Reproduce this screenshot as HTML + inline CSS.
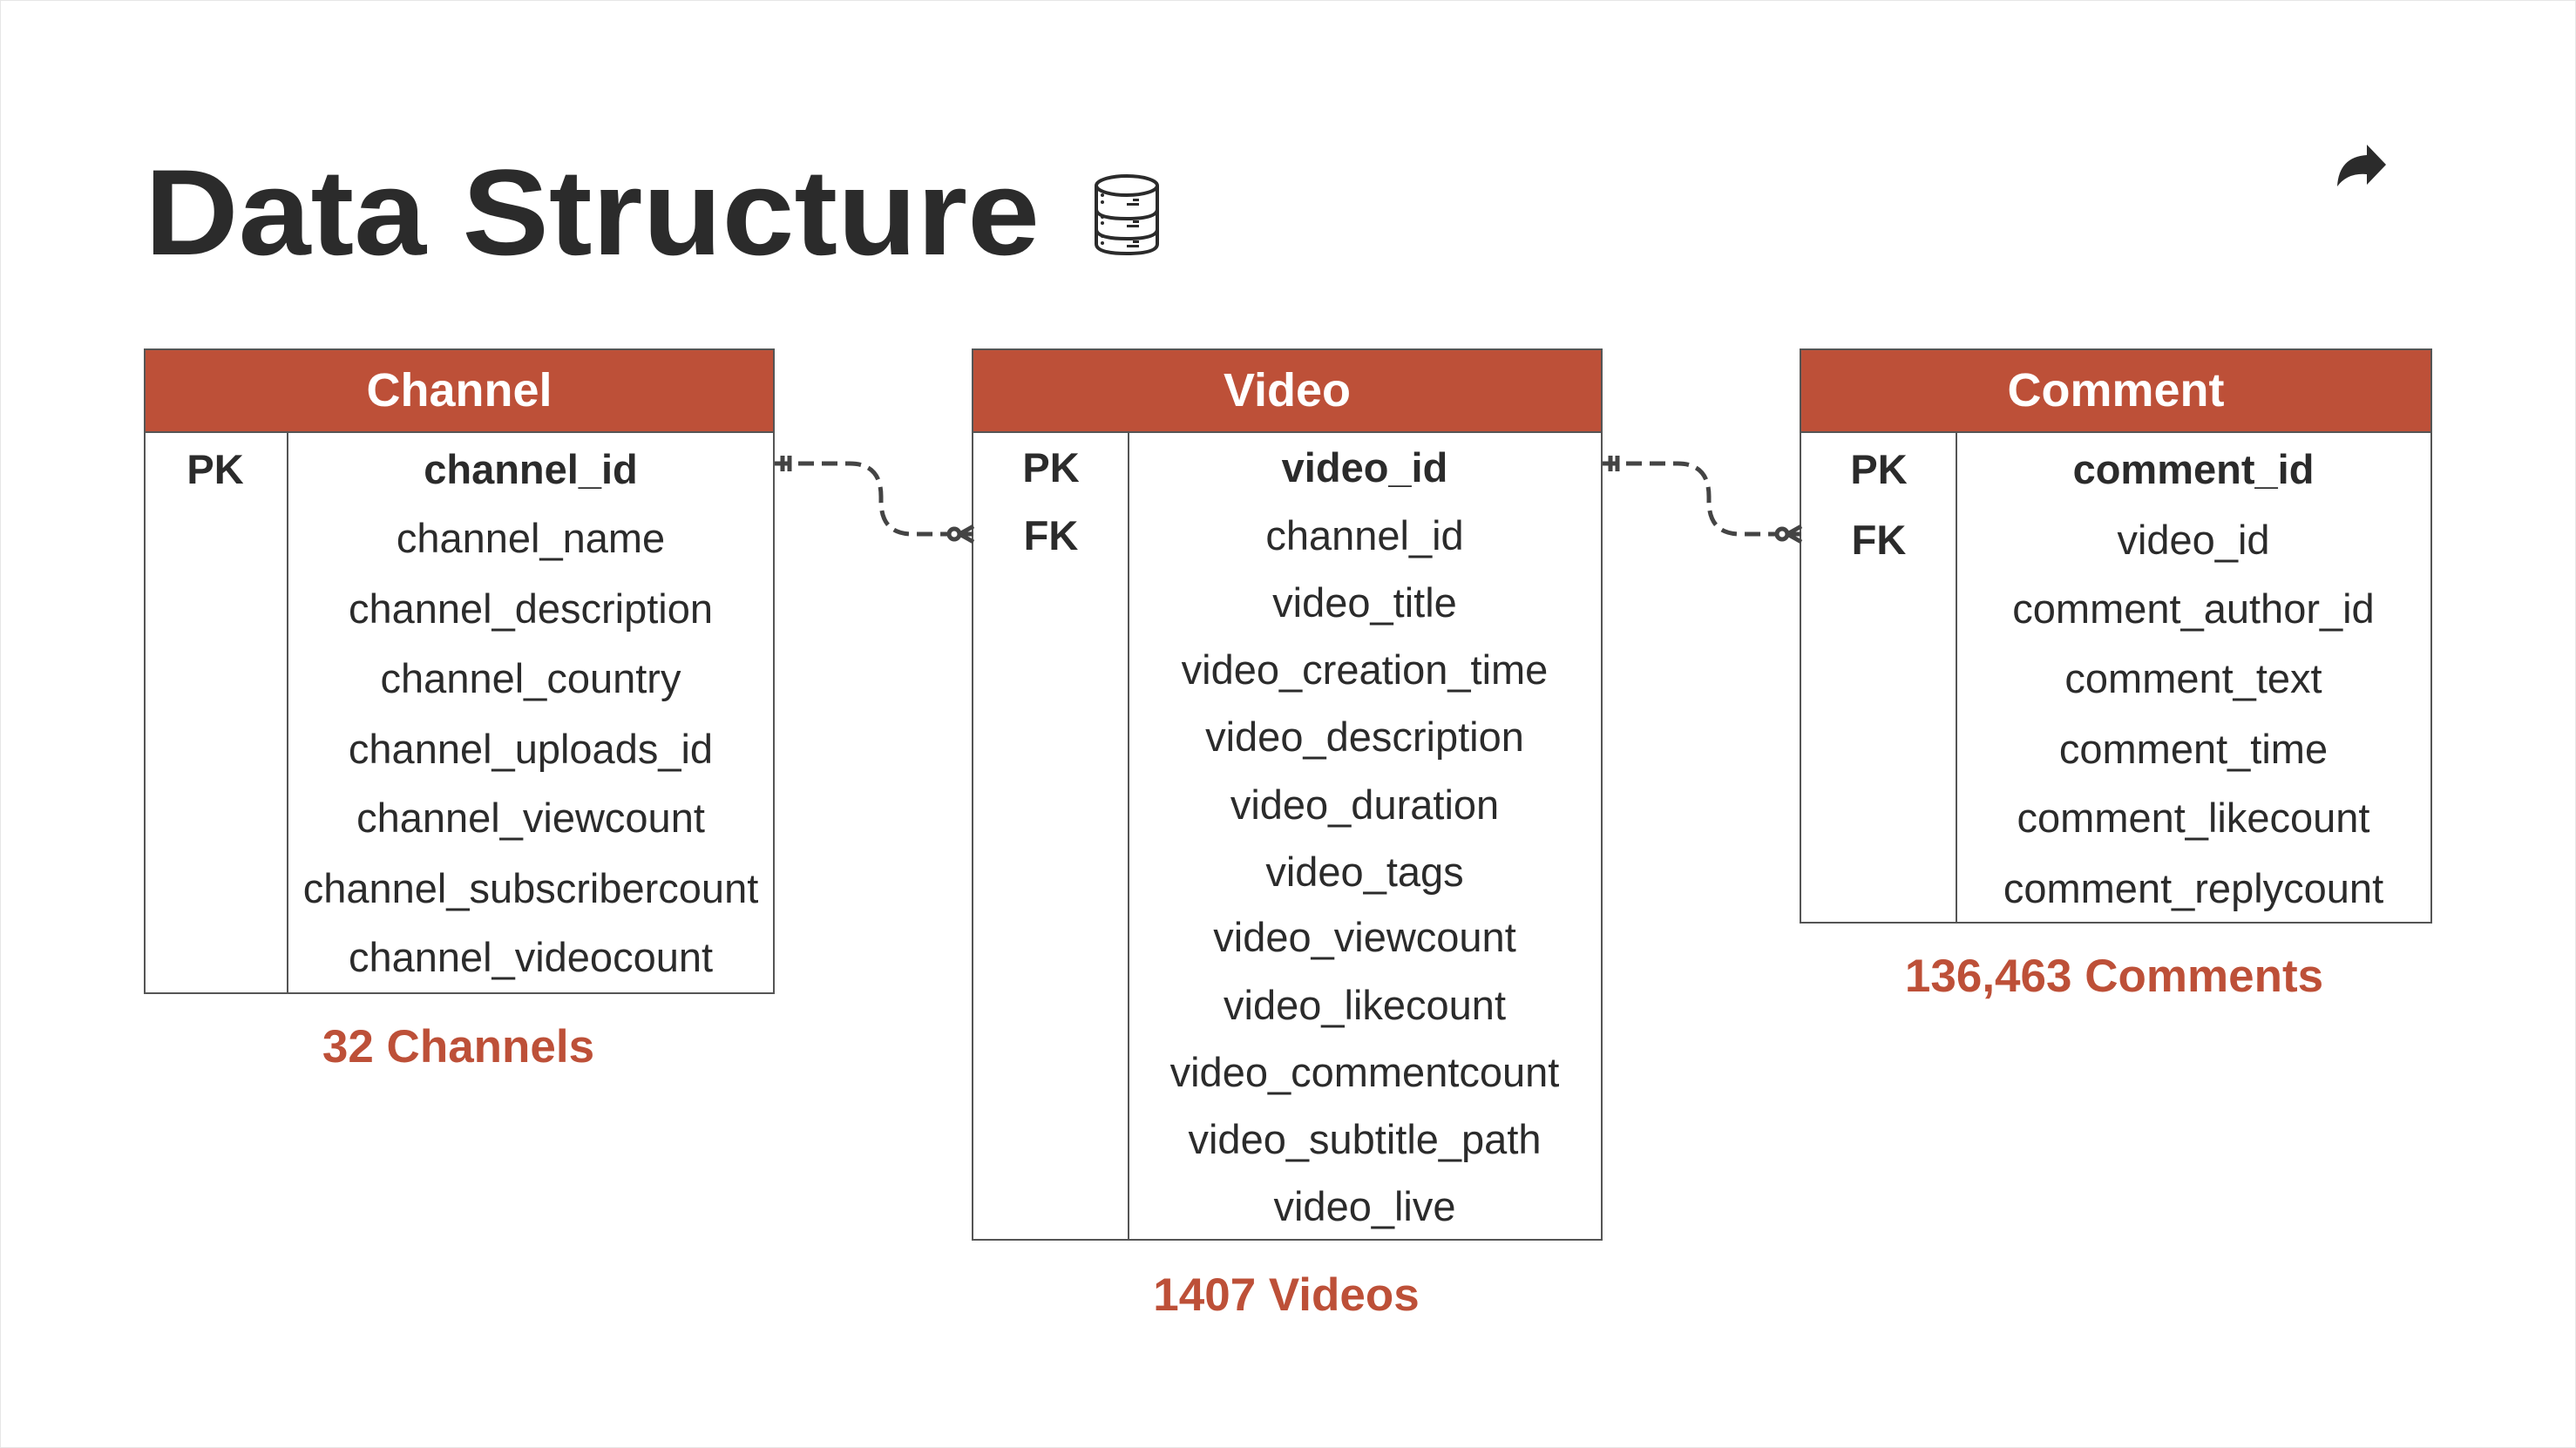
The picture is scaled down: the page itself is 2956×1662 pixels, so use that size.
<!DOCTYPE html>
<html><head><meta charset="utf-8"><style>
html,body{margin:0;padding:0;background:#fff;}
svg{display:block;}
text{font-family:"Liberation Sans",sans-serif;fill:#2b2b2b;}
.r{font-size:47px;text-anchor:middle;}
.b{font-weight:bold;}
.h{font-size:54px;font-weight:bold;fill:#fff;text-anchor:middle;}
.c{font-size:53px;font-weight:bold;fill:#bd5038;text-anchor:middle;}
</style></head><body>
<svg width="2956" height="1662" viewBox="0 0 2956 1662" xmlns="http://www.w3.org/2000/svg">
<rect x="0.5" y="0.5" width="2955" height="1661" fill="#fff" stroke="#e6e6e6"/>
<text x="166" y="292" font-size="140" font-weight="bold" textLength="1027" lengthAdjust="spacingAndGlyphs">Data Structure</text>
<g fill="none" stroke="#2b2b2b" stroke-width="4">
<ellipse cx="1293" cy="213" rx="35" ry="11"/>
<path d="M1258 213 V280 Q1258 291 1293 291 Q1328 291 1328 280 V213"/>
<path d="M1258 240 Q1258 251 1293 251 Q1328 251 1328 240"/>
<path d="M1258 263 Q1258 274 1293 274 Q1328 274 1328 263"/>
</g>
<g fill="#2b2b2b"><circle cx="1265" cy="224" r="2"/><circle cx="1265" cy="232" r="2"/><circle cx="1265" cy="249" r="2"/><circle cx="1265" cy="256" r="2"/><circle cx="1265" cy="271" r="2"/><circle cx="1265" cy="279" r="2"/>
<rect x="1293" y="233" width="14" height="3"/><rect x="1300" y="228" width="7" height="3"/><rect x="1293" y="258" width="14" height="3"/><rect x="1300" y="253" width="7" height="3"/><rect x="1293" y="281" width="14" height="3"/><rect x="1300" y="276" width="7" height="3"/></g>
<path d="M2682 214 Q2684 180 2716 178 V166 L2738 189 L2716 212 V200 Q2694 198 2682 214 Z" fill="#2b2b2b"/>

<rect x="166" y="401" width="722" height="739" fill="#fff" stroke="#555" stroke-width="2"/>
<rect x="166" y="401" width="722" height="95" fill="#bd5038" stroke="#555" stroke-width="2"/>
<line x1="330" y1="496" x2="330" y2="1140" stroke="#555" stroke-width="2"/>
<text class="h" x="527" y="466">Channel</text>
<text class="r b" x="247" y="555">PK</text>
<text class="r b" x="609" y="555">channel_id</text><text class="r" x="609" y="634">channel_name</text><text class="r" x="609" y="715">channel_description</text><text class="r" x="609" y="795">channel_country</text><text class="r" x="609" y="876">channel_uploads_id</text><text class="r" x="609" y="955">channel_viewcount</text><text class="r" x="609" y="1036">channel_subscribercount</text><text class="r" x="609" y="1115">channel_videocount</text>
<text class="c" x="526" y="1219">32 Channels</text>

<rect x="1116" y="401" width="722" height="1022" fill="#fff" stroke="#555" stroke-width="2"/>
<rect x="1116" y="401" width="722" height="95" fill="#bd5038" stroke="#555" stroke-width="2"/>
<line x1="1295" y1="496" x2="1295" y2="1423" stroke="#555" stroke-width="2"/>
<text class="h" x="1477" y="466">Video</text>
<text class="r b" x="1206" y="553">PK</text><text class="r b" x="1206" y="631">FK</text>
<text class="r b" x="1566" y="553">video_id</text>
<text class="r" x="1566" y="631">channel_id</text><text class="r" x="1566" y="708">video_title</text><text class="r" x="1566" y="785">video_creation_time</text><text class="r" x="1566" y="862">video_description</text><text class="r" x="1566" y="940">video_duration</text><text class="r" x="1566" y="1017">video_tags</text><text class="r" x="1566" y="1092">video_viewcount</text><text class="r" x="1566" y="1170">video_likecount</text><text class="r" x="1566" y="1247">video_commentcount</text><text class="r" x="1566" y="1324">video_subtitle_path</text><text class="r" x="1566" y="1401">video_live</text>
<text class="c" x="1476" y="1504">1407 Videos</text>

<rect x="2066" y="401" width="724" height="658" fill="#fff" stroke="#555" stroke-width="2"/>
<rect x="2066" y="401" width="724" height="95" fill="#bd5038" stroke="#555" stroke-width="2"/>
<line x1="2245" y1="496" x2="2245" y2="1059" stroke="#555" stroke-width="2"/>
<text class="h" x="2428" y="466">Comment</text>
<text class="r b" x="2156" y="555">PK</text><text class="r b" x="2156" y="636">FK</text>
<text class="r b" x="2517" y="555">comment_id</text>
<text class="r" x="2517" y="636">video_id</text><text class="r" x="2517" y="715">comment_author_id</text><text class="r" x="2517" y="795">comment_text</text><text class="r" x="2517" y="876">comment_time</text><text class="r" x="2517" y="955">comment_likecount</text><text class="r" x="2517" y="1036">comment_replycount</text>
<text class="c" x="2426" y="1138">136,463 Comments</text>

<g fill="none" stroke="#444" stroke-width="5">
<path d="M889 532 H975 Q1011 532 1011 570 V575 Q1011 613 1047 613 H1090" stroke-dasharray="18 9"/>
<line x1="898" y1="523" x2="898" y2="541"/><line x1="906" y1="523" x2="906" y2="541"/>
<circle cx="1095" cy="613" r="6"/>
<path d="M1101 613 L1117 604 M1101 613 L1117 622 M1101 613 H1117"/>
<path d="M1839 532 H1925 Q1961 532 1961 570 V575 Q1961 613 1997 613 H2040" stroke-dasharray="18 9"/>
<line x1="1848" y1="523" x2="1848" y2="541"/><line x1="1856" y1="523" x2="1856" y2="541"/>
<circle cx="2045" cy="613" r="6"/>
<path d="M2051 613 L2067 604 M2051 613 L2067 622 M2051 613 H2067"/>
</g>
</svg>
</body></html>
